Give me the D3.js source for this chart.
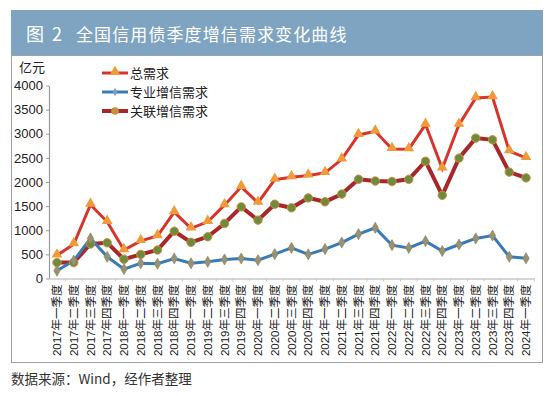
<!DOCTYPE html>
<html><head><meta charset="utf-8">
<script src="https://cdn.jsdelivr.net/npm/d3@7"></script>
<style>
html,body{margin:0;padding:0;background:#fff;}
svg{display:block;font-family:"Liberation Sans","Noto Sans CJK SC",sans-serif;}
</style></head>
<body>
<svg id="c" width="550" height="396"></svg>
<script>
const years = ["2017","2017","2017","2017","2018","2018","2018","2018","2019","2019","2019","2019","2020","2020","2020","2020","2021","2021","2021","2021","2022","2022","2022","2022","2023","2023","2023","2023","2024"];
const quarters = ["一","二","三","四"];
const categories = years.map((y,i)=>y+"年"+quarters[i%4]+"季度");
const totalDemand = [480,710,1530,1175,590,780,880,1375,1040,1175,1520,1900,1570,2050,2100,2135,2190,2470,2975,3050,2685,2680,3190,2280,3190,3740,3760,2640,2500];
const proDemand   = [160,370,830,450,195,315,305,415,315,345,395,415,380,505,635,500,610,745,920,1050,690,635,775,570,705,830,890,450,420];
const relDemand   = [330,330,715,740,400,500,590,980,750,865,1140,1485,1210,1540,1465,1670,1590,1750,2057,2020,2010,2055,2430,1725,2495,2910,2875,2205,2085];
const yTicks = [0,500,1000,1500,2000,2500,3000,3500,4000];
const titleText = "全国信用债季度增信需求变化曲线";
const figLabel = "图 2";
const unitLabel = "亿元";
const sourceText = "数据来源：Wind，经作者整理";
const seriesNames = ["总需求","专业增信需求","关联增信需求"];

const svg = d3.select("#c");
// title bar and frame
svg.append("rect").attr("x",11).attr("y",10).attr("width",532).attr("height",45).attr("fill","#7ea4c1");
svg.append("rect").attr("x",11.5).attr("y",55.5).attr("width",531).attr("height",307).attr("fill","none").attr("stroke","#a0a0a0").attr("stroke-width",1);
svg.append("text").attr("x",26).attr("y",41).attr("fill","#fff").attr("font-size",18).attr("letter-spacing",2).attr("font-family","Noto Sans CJK SC").text(figLabel);
svg.append("text").attr("x",76).attr("y",41).attr("fill","#fff").attr("font-size",17).attr("letter-spacing",1.1).attr("font-family","Noto Sans CJK SC").text(titleText);
svg.append("text").attr("x",11).attr("y",384).attr("fill","#333").attr("font-size",13.5).attr("font-family","Noto Sans CJK SC").text(sourceText);

const x = d3.scaleBand().domain(categories).range([48.6,534.4]);
const y = d3.scaleLinear().domain([0,4000]).range([278.5,85.5]);
const cx = d => x(d)+x.bandwidth()/2;

// axes
const yAxis = svg.append("g").attr("transform","translate(49,0)")
  .call(d3.axisLeft(y).tickValues(yTicks).tickFormat(d3.format("d")).tickSize(3).tickSizeOuter(0).tickPadding(3));
yAxis.select(".domain").attr("stroke","#9a9a9a").attr("stroke-width",1.2);
yAxis.selectAll(".tick line").attr("stroke","#9a9a9a");
yAxis.selectAll(".tick text").attr("font-size",13).attr("fill","#222").attr("font-family","Liberation Sans");

const xAxis = svg.append("g").attr("transform","translate(0,278.5)")
  .call(d3.axisBottom(x).tickSize(0).tickSizeOuter(0));
xAxis.select(".domain").attr("stroke","#c8c8c8").attr("stroke-width",1.5);
xAxis.selectAll(".tick text").attr("font-size",11.5).attr("fill","#222")
  .attr("font-family","Liberation Sans, Noto Sans CJK SC")
  .attr("transform","rotate(-90)").attr("text-anchor","end").attr("x",-6).attr("y",0).attr("dy","0.35em");
// category separator ticks
xAxis.selectAll(".sep").data(categories).enter().append("line")
  .attr("x1",d=>x(d)+x.bandwidth()).attr("x2",d=>x(d)+x.bandwidth()).attr("y1",0).attr("y2",3).attr("stroke","#c8c8c8");

svg.append("text").attr("x",19).attr("y",72).attr("font-size",13).attr("fill","#222").attr("font-family","Noto Sans CJK SC").text(unitLabel);

const line = d3.line().x((d,i)=>cx(categories[i])).y(d=>y(d));
const tri = d3.symbol().type(d3.symbolTriangle).size(50);
const dia = d3.symbol().type(d3.symbolDiamond).size(36);

// total
svg.append("path").datum(totalDemand).attr("d",line).attr("fill","none").attr("stroke","#d8342c").attr("stroke-width",3);
// relational
svg.append("path").datum(relDemand).attr("d",line).attr("fill","none").attr("stroke","#a8282a").attr("stroke-width",4);
// pro
svg.append("path").datum(proDemand).attr("d",line).attr("fill","none").attr("stroke","#3a7bb6").attr("stroke-width",3);

svg.selectAll(".mt").data(totalDemand).enter().append("path")
  .attr("d",tri).attr("transform",(d,i)=>`translate(${cx(categories[i])},${y(d)-1})`).attr("fill","#f09a3a");
svg.selectAll(".mr").data(relDemand).enter().append("circle")
  .attr("cx",(d,i)=>cx(categories[i])).attr("cy",d=>y(d)).attr("r",4.2).attr("fill","#6e8a3c").attr("stroke","#c8903e").attr("stroke-width",1);
svg.selectAll(".mp").data(proDemand).enter().append("path")
  .attr("d",dia).attr("transform",(d,i)=>`translate(${cx(categories[i])},${y(d)})`).attr("fill","#999272").attr("stroke","#8a8260").attr("stroke-width",0.6);

// legend
const lg = svg.append("g");
const rows = [73,92,111];
const lcol = ["#d8342c","#3a7bb6","#a8282a"];
rows.forEach((ry,i)=>{
  lg.append("line").attr("x1",102).attr("x2",128).attr("y1",ry).attr("y2",ry).attr("stroke",lcol[i]).attr("stroke-width",i==2?4:3);
  if(i==0) lg.append("path").attr("d",tri).attr("transform",`translate(115,${ry-1})`).attr("fill","#f09a3a");
  if(i==1) lg.append("path").attr("d",d3.symbol().type(d3.symbolDiamond).size(20)).attr("transform",`translate(115,${ry})`).attr("fill","#7d9cc0");
  if(i==2) lg.append("circle").attr("cx",115).attr("cy",ry).attr("r",3.8).attr("fill","#c8903e");
  lg.append("text").attr("x",130).attr("y",ry).attr("dy","0.36em").attr("font-size",13).attr("fill","#222").attr("font-family","Noto Sans CJK SC").text(seriesNames[i]);
});
</script>
</body></html>
